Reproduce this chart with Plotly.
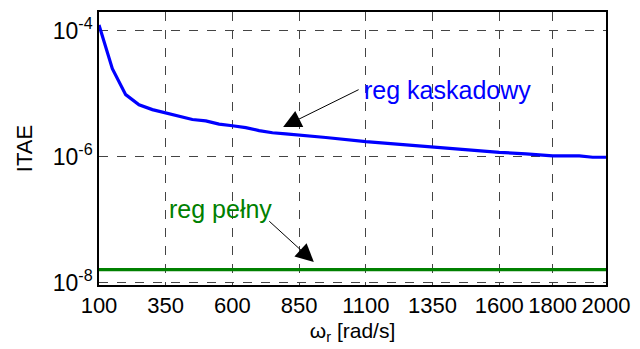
import plotly.graph_objects as go

# Rotor speed setpoints [rad/s]
omega_r = [100, 150, 200, 250, 300, 350, 400, 450, 500, 550, 600, 650, 700,
           750, 800, 900, 950, 1100, 1250, 1350, 1500, 1600, 1700, 1800, 1900,
           1950, 2000]

# ITAE of the cascade controller
itae_cascade = [1.24e-4, 2.5e-5, 9.7e-6, 6.7e-6, 5.6e-6, 5.0e-6, 4.5e-6,
                3.9e-6, 3.7e-6, 3.3e-6, 3.1e-6, 2.9e-6, 2.6e-6, 2.4e-6,
                2.3e-6, 2.07e-6, 2.02e-6, 1.73e-6, 1.53e-6, 1.41e-6,
                1.26e-6, 1.17e-6, 1.11e-6, 1.03e-6, 1.03e-6, 0.98e-6, 0.98e-6]

# ITAE of the full-state controller
itae_full = [1.6e-8] * len(omega_r)

x_ticks = [100, 350, 600, 850, 1100, 1350, 1600, 1800, 2000]
y_ticks = [1e-8, 1e-6, 1e-4]
y_ticktext = ["10<sup>-8</sup>", "10<sup>-6</sup>", "10<sup>-4</sup>"]

FONT = "Liberation Sans, Arial, sans-serif"

fig = go.Figure()
fig.add_trace(go.Scatter(x=omega_r, y=itae_cascade, mode="lines",
                         line=dict(color="#0000ff", width=3.2),
                         showlegend=False))
fig.add_trace(go.Scatter(x=omega_r, y=itae_full, mode="lines",
                         line=dict(color="#008000", width=3.2),
                         showlegend=False))

# Labels with arrows pointing at each curve
fig.add_annotation(x=1085, y=-4.947, xref="x", yref="y", text="reg kaskadowy",
                   showarrow=False, xanchor="left", yanchor="middle",
                   font=dict(family=FONT, size=25, color="#0000ff"))
fig.add_annotation(x=790, y=-5.527, xref="x", yref="y", text="",
                   showarrow=True, ax=77, ay=-38, arrowhead=2, arrowsize=3.6,
                   arrowwidth=1, arrowcolor="black")
fig.add_annotation(x=356, y=-6.83, xref="x", yref="y", text="reg pełny",
                   showarrow=False, xanchor="left", yanchor="middle",
                   font=dict(family=FONT, size=25, color="#008000"))
fig.add_annotation(x=905, y=-7.673, xref="x", yref="y", text="",
                   showarrow=True, ax=-46, ay=-42, arrowhead=2, arrowsize=3.6,
                   arrowwidth=1, arrowcolor="black")

fig.update_xaxes(range=[100, 2000], tickvals=x_ticks,
                 showgrid=True, gridcolor="#444444", griddash="dash",
                 gridwidth=1, showline=True, linecolor="black", linewidth=1.5,
                 mirror=True, ticks="", zeroline=False,
                 tickfont=dict(family=FONT, size=22, color="black"),
                 title=dict(text="ω<sub>r</sub> [rad/s]", standoff=6,
                            font=dict(family=FONT, size=21, color="black")))
fig.update_yaxes(type="log", range=[-8.04, -3.70], tickvals=y_ticks,
                 ticktext=y_ticktext,
                 showgrid=True, gridcolor="#444444", griddash="dash",
                 gridwidth=1, showline=True, linecolor="black", linewidth=1.5,
                 mirror=True, ticks="", zeroline=False,
                 tickfont=dict(family=FONT, size=23, color="black"),
                 title=dict(text="ITAE", standoff=14,
                            font=dict(family=FONT, size=22, color="black")))

fig.update_layout(width=640, height=349,
                  margin=dict(l=99, r=26, t=10, b=63),
                  paper_bgcolor="white", plot_bgcolor="white")

fig.write_html("out.html")
